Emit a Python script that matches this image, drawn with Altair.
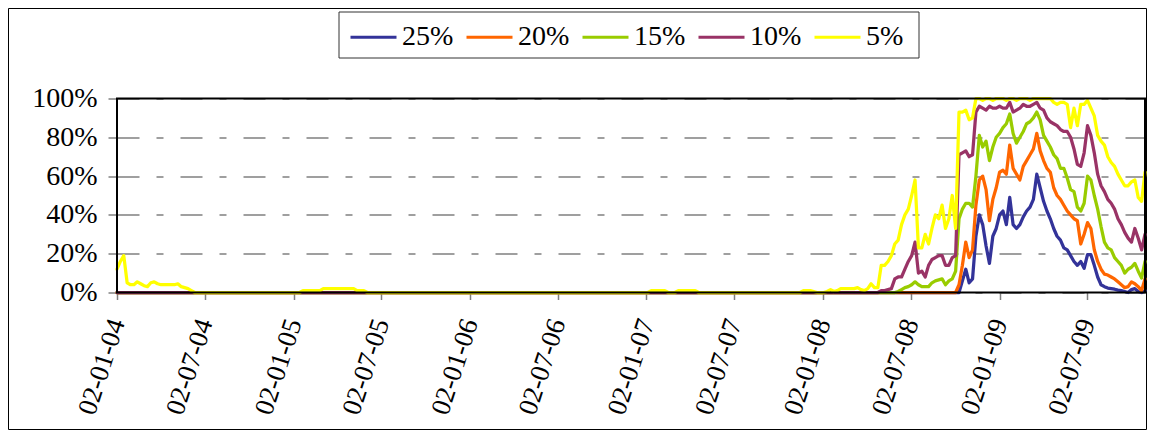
import altair as alt
import pandas as pd

# ---------------- data ----------------
# weekly observations: Friday 2 Jan 2004 ... Friday 30 Oct 2009
first_week = "2004-01-02"
n_weeks = 305

series_labels = ["25%", "20%", "15%", "10%", "5%"]
series_colors = ["#333399", "#FF6600", "#99CC00", "#993366", "#FFFF00"]

x_tick_dates = ["2004-01-02", "2004-07-02", "2005-01-02", "2005-07-02",
                "2006-01-02", "2006-07-02", "2007-01-02", "2007-07-02",
                "2008-01-02", "2008-07-02", "2009-01-02", "2009-07-02"]
y_tick_values = [0, 20, 40, 60, 80, 100]

# values in percent, one row = 26 weeks
s25 = [
    0,0,0,0,0,0,0,0,0,0,0,0,0,0,0,0,0,0,0,0,0,0,0,0,0,0,
    0,0,0,0,0,0,0,0,0,0,0,0,0,0,0,0,0,0,0,0,0,0,0,0,0,0,
    0,0,0,0,0,0,0,0,0,0,0,0,0,0,0,0,0,0,0,0,0,0,0,0,0,0,
    0,0,0,0,0,0,0,0,0,0,0,0,0,0,0,0,0,0,0,0,0,0,0,0,0,0,
    0,0,0,0,0,0,0,0,0,0,0,0,0,0,0,0,0,0,0,0,0,0,0,0,0,0,
    0,0,0,0,0,0,0,0,0,0,0,0,0,0,0,0,0,0,0,0,0,0,0,0,0,0,
    0,0,0,0,0,0,0,0,0,0,0,0,0,0,0,0,0,0,0,0,0,0,0,0,0,0,
    0,0,0,0,0,0,0,0,0,0,0,0,0,0,0,0,0,0,0,0,0,0,0,0,0,0,
    0,0,0,0,0,0,0,0,0,0,0,0,0,0,0,0,0,0,0,0,0,0,0,0,0,0,
    0,0,0,0,0,0,0,0,0,0,0,0,0,0,0, 0,6,12,5,7,29,40,35,24,15,29,
    33,40,42,35,49,35,33,35,39,42,44,48,61,54,47,42,38,33,29,27,23,22,19,16,14,16,
    12.5,19.5,19.5,14,8,4,3,2.3,2,1.7,1.2,1,0.5,0,1.5,2,0.5,0,1,
]
s20 = [
    0,0,0,0,0,0,0,0,0,0,0,0,0,0,0,0,0,0,0,0,0,0,0,0,0,0,
    0,0,0,0,0,0,0,0,0,0,0,0,0,0,0,0,0,0,0,0,0,0,0,0,0,0,
    0,0,0,0,0,0,0,0,0,0,0,0,0,0,0,0,0,0,0,0,0,0,0,0,0,0,
    0,0,0,0,0,0,0,0,0,0,0,0,0,0,0,0,0,0,0,0,0,0,0,0,0,0,
    0,0,0,0,0,0,0,0,0,0,0,0,0,0,0,0,0,0,0,0,0,0,0,0,0,0,
    0,0,0,0,0,0,0,0,0,0,0,0,0,0,0,0,0,0,0,0,0,0,0,0,0,0,
    0,0,0,0,0,0,0,0,0,0,0,0,0,0,0,0,0,0,0,0,0,0,0,0,0,0,
    0,0,0,0,0,0,0,0,0,0,0,0,0,0,0,0,0,0,0,0,0,0,0,0,0,0,
    0,0,0,0,0,0,0,0,0,0,0,0,0,0,0,0,0,0,0,0,0,0,0,0,0,0,
    0,0,0,0,0,0,0,0,0,0,0,0,0,0,0, 4,14,26,18,22,45,58,60,53,37,48,
    54,62,63,61,76,64,61,58,65,68,71,74,82,73,68,64,62,54,50,48,45,42,40,38,37,25,
    30,36,33,22,16,12,9.5,9,8,7,5.5,4,2.5,3,5.5,4.5,3,1,7,
]
s15 = [
    0,0,0,0,0,0,0,0,0,0,0,0,0,0,0,0,0,0,0,0,0,0,0,0,0,0,
    0,0,0,0,0,0,0,0,0,0,0,0,0,0,0,0,0,0,0,0,0,0,0,0,0,0,
    0,0,0,0,0,0,0,0,0,0,0,0,0,0,0,0,0,0,0,0,0,0,0,0,0,0,
    0,0,0,0,0,0,0,0,0,0,0,0,0,0,0,0,0,0,0,0,0,0,0,0,0,0,
    0,0,0,0,0,0,0,0,0,0,0,0,0,0,0,0,0,0,0,0,0,0,0,0,0,0,
    0,0,0,0,0,0,0,0,0,0,0,0,0,0,0,0,0,0,0,0,0,0,0,0,0,0,
    0,0,0,0,0,0,0,0,0,0,0,0,0,0,0,0,0,0,0,0,0,0,0,0,0,0,
    0,0,0,0,0,0,0,0,0,0,0,0,0,0,0,0,0,0,0,0,0,0,0,0,0,0,
    0,0,0,0,0,0,0,0,0,0,0,0,0,0,0,0,0,0,0,0,0,0,0,0.5,1.5,2.5,
    3,4,5.5,4,3,3,3,5,6,6.5,7,4,6,7,11,38,43,46,46,44,60,81,75,78,68,75,
    80,82,85,87,92,82,77,80,83,87,88,90,93,89,81,78,75,71,69,64,64,59,53,52,44,42,
    46,60,58,50,43,34,26,23,22,18,16,14,10,12,13,15,11,7.5,16,
]
s10 = [
    0,0,0,0,0,0,0,0,0,0,0,0,0,0,0,0,0,0,0,0,0,0,0,0,0,0,
    0,0,0,0,0,0,0,0,0,0,0,0,0,0,0,0,0,0,0,0,0,0,0,0,0,0,
    0,0,0,0,0,0,0,0,0,0,0,0,0,0,0,0,0,0,0,0,0,0,0,0,0,0,
    0,0,0,0,0,0,0,0,0,0,0,0,0,0,0,0,0,0,0,0,0,0,0,0,0,0,
    0,0,0,0,0,0,0,0,0,0,0,0,0,0,0,0,0,0,0,0,0,0,0,0,0,0,
    0,0,0,0,0,0,0,0,0,0,0,0,0,0,0,0,0,0,0,0,0,0,0,0,0,0,
    0,0,0,0,0,0,0,0,0,0,0,0,0,0,0,0,0,0,0,0,0,0,0,0,0,0,
    0,0,0,0,0,0,0,0,0,0,0,0,0,0,0,0,0,0,0,0,0,0,0,0,0,0,
    0,0,0,0,0,0,0,0,0,0,0,0,0,0,0,0,0,0, 1,1,1.5,2,7,8,8,12,
    16,19,26,10,11,8,14,17,18,19,19,14,14,18,19,71,72,73,70,71,93,96,95,94,96,95,
    95,96,95,95,98,93,94,95,97,96,96,97,98,95,94,90,88,87,86,84,83,83,80,74,66,65,
    72,86,81,72,61,55,52,48,46,43,38,35,31,28,26,33,28,22,30,
]
s5 = [
    12,16,19,5,4,4,5.5,4.5,3.5,3,5,5.5,4.5,4,4,4,4,4,4.5,3,2.5,2,1,0,0,0,
    0,0,0,0,0,0,0,0,0,0,0,0,0,0,0,0,0,0,0,0,0,0,0,0,0,0,
    0,0,0,1,1,1,1,1,1,2,2,2,2,2,2,2,2,2,2,1,1,1,0,0,0,0,
    0,0,0,0,0,0,0,0,0,0,0,0,0,0,0,0,0,0,0,0,0,0,0,0,0,0,
    0,0,0,0,0,0,0,0,0,0,0,0,0,0,0,0,0,0,0,0,0,0,0,0,0,0,
    0,0,0,0,0,0,0,0,0,0,0,0,0,0,0,0,0,0,0,0,0,0,0,0,0,0,
    0,0,1,1,1,1,1,0,0,0,1,1,1,1,1,1,0,0,0,0,0,0,0,0,0,0,
    0,0,0,0,0,0,0,0,0,0,0,0,0,0,0,0,0,0,0,0,0,1,1,1,0.5,0,
    0,0,0.5,1.5,0.5,1,2,2,2,2,2,2.5,1.5,1,2,4.5,2.5,2.5,14,14,16,19,25,27,35,40,
    43,50,58,23,23,30,25,33,40,38,45,33,38,50,33,93,93,94,89,90,100,100,99,100,100,99,
    100,100,100,99,100,100,99,100,100,100,99,100,100,100,100,100,100,98,97,98,98,97,85,95,86,97,
    97,99,95,91,81,78,76,70,67,65,61,58,55,55,57,58,49,47,62,
]

# ---------------- table ----------------
dates = pd.date_range(first_week, periods=n_weeks, freq="7D").strftime("%Y-%m-%d")
frames = []
for lab, vals in zip(series_labels, [s25, s20, s15, s10, s5]):
    frames.append(pd.DataFrame({"date": list(dates), "value": vals, "series": lab}))
df = pd.concat(frames, ignore_index=True)

# ---------------- layout ----------------
PLOT_W, PLOT_H = 1028, 194
PAD = {"left": 109, "top": 90.5, "right": 2, "bottom": 137.5}
FONT = "'Times New Roman', 'Liberation Serif', Times, serif"


def utc(d):
    y, m, dd = (int(p) for p in d.split("-"))
    return alt.DateTime(year=y, month=m, date=dd, utc=True)


x_enc = alt.X(
    "date:T",
    title=None,
    scale=alt.Scale(type="utc", domain=[utc(dates[0]), utc(dates[-1])], nice=False),
    axis=alt.Axis(
        values=[utc(d) for d in x_tick_dates],
        labelExpr="utcFormat(datum.value, '%d-%m-%y')",
        labelAngle=288, labelAlign="right", labelBaseline="middle",
        labelFont=FONT, labelFontSize=27, labelColor="black",
        labelPadding=20, labelOverlap=False, labelFlush=False,
        tickSize=7, tickColor="#808080", tickWidth=1.5,
        domain=False, grid=False,
    ),
)
y_enc = alt.Y(
    "value:Q",
    title=None,
    scale=alt.Scale(domain=[0, 100], nice=False),
    axis=alt.Axis(
        values=y_tick_values, labelExpr="datum.value + '%'",
        labelFont=FONT, labelFontSize=28, labelColor="black", labelPadding=11,
        tickSize=9, tickColor="#808080", tickWidth=1.5,
        domain=False, grid=True, gridColor="#808080", gridWidth=1.5,
        gridDash=[22, 17, 7, 17],
    ),
)
color_enc = alt.Color(
    "series:N",
    title=None,
    scale=alt.Scale(domain=series_labels, range=series_colors),
    legend=alt.Legend(
        orient="none", legendX=232, legendY=-86,
        direction="horizontal", columns=5,
        symbolType="stroke", symbolSize=2116, symbolStrokeWidth=3,
        labelFont=FONT, labelFontSize=28, labelColor="black",
        labelOffset=4, columnPadding=6, padding=0,
    ),
)

base = alt.Chart(df).encode(x=x_enc, y=y_enc, color=color_enc)
line_layers = [
    base.transform_filter(alt.datum.series == lab).mark_line(
        strokeWidth=3.25, strokeJoin="round", strokeCap="round"
    )
    for lab in series_labels
]

frame_df = pd.DataFrame({"frame": [0]})
plot_frame = alt.Chart(frame_df).mark_rect(
    filled=False, stroke="black", strokeWidth=2
).encode(
    x=alt.value(0), x2=alt.value(PLOT_W), y=alt.value(0), y2=alt.value(PLOT_H)
)
outer_frame = alt.Chart(frame_df).mark_rect(
    filled=False, stroke="black", strokeWidth=1
).encode(
    x=alt.value(-108.5), x2=alt.value(PLOT_W + 1.5),
    y=alt.value(-90), y2=alt.value(PLOT_H + 137)
)
legend_box = alt.Chart(frame_df).mark_rect(
    filled=False, stroke="#333333", strokeWidth=1
).encode(
    x=alt.value(222), x2=alt.value(802), y=alt.value(-86.5), y2=alt.value(-40.5)
)

chart = alt.layer(outer_frame, legend_box, *line_layers, plot_frame).properties(
    width=PLOT_W, height=PLOT_H,
    padding=PAD,
    autosize=alt.AutoSizeParams(type="none"),
    background="white",
).configure_view(stroke="transparent")

chart.save("out.html", embed_options={"renderer": "svg", "actions": False})
